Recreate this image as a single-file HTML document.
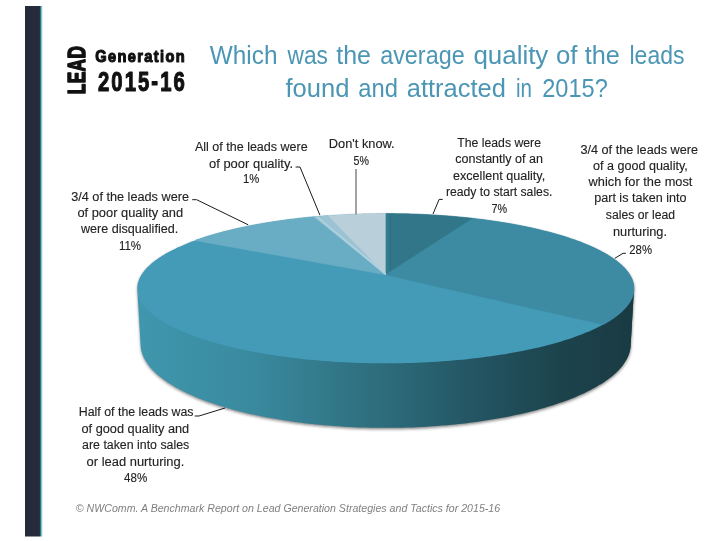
<!DOCTYPE html>
<html><head><meta charset="utf-8"><style>
html,body{margin:0;padding:0;background:#fff;}
body{width:725px;height:541px;overflow:hidden;position:relative;font-family:"Liberation Sans",sans-serif;}
svg{position:absolute;left:0;top:0;will-change:transform;}
text{font-family:"Liberation Sans",sans-serif;}
</style></head><body>
<svg width="725" height="541" viewBox="0 0 725 541">
<defs>
<filter id="blur" x="-10%" y="-10%" width="120%" height="130%"><feGaussianBlur stdDeviation="1.8"/></filter>
<linearGradient id="g48" gradientUnits="userSpaceOnUse" x1="137" y1="0" x2="610" y2="0">
<stop offset="0" stop-color="#3f97ae"/><stop offset="0.239" stop-color="#3a8a9f"/><stop offset="0.524" stop-color="#2d6c7b"/><stop offset="0.704" stop-color="#245664"/><stop offset="0.894" stop-color="#1c434c"/><stop offset="1" stop-color="#1a3e47"/>
</linearGradient>
<linearGradient id="g28" gradientUnits="userSpaceOnUse" x1="590" y1="0" x2="634" y2="0">
<stop offset="0" stop-color="#1a3d46"/><stop offset="0.5" stop-color="#1a3d46"/><stop offset="1" stop-color="#193a43"/>
</linearGradient>
<linearGradient id="bar" gradientUnits="userSpaceOnUse" x1="25" y1="0" x2="43" y2="0">
<stop offset="0" stop-color="#252b3a"/><stop offset="0.794" stop-color="#252b3a"/><stop offset="0.822" stop-color="#1d3f50"/><stop offset="0.878" stop-color="#3c8a99"/><stop offset="0.933" stop-color="#a8dce6"/><stop offset="1" stop-color="#ffffff"/>
</linearGradient>
</defs>
<rect x="25" y="6" width="18" height="530.5" fill="url(#bar)"/>
<polygon points="137.31,289.78 137.27,288.45 137.31,287.12 137.42,285.80 137.62,284.48 137.89,283.17 138.23,281.86 138.65,280.56 139.14,279.27 139.70,277.98 140.34,276.71 141.04,275.43 141.82,274.17 142.67,272.92 143.58,271.67 144.56,270.43 145.61,269.20 146.72,267.98 147.90,266.77 149.14,265.57 150.44,264.38 151.80,263.20 153.23,262.03 154.71,260.87 156.26,259.73 157.86,258.59 159.52,257.46 161.23,256.35 163.00,255.25 164.82,254.16 166.70,253.08 168.63,252.02 170.61,250.97 172.64,249.93 174.72,248.90 176.85,247.89 179.02,246.89 181.24,245.90 183.51,244.93 185.83,243.97 188.18,243.02 190.58,242.09 193.03,241.17 195.51,240.26 198.03,239.37 200.60,238.49 203.20,237.63 205.84,236.78 208.52,235.95 211.23,235.13 213.98,234.32 216.76,233.53 219.58,232.76 222.43,232.00 225.32,231.25 228.23,230.52 231.17,229.80 234.15,229.10 237.15,228.42 240.18,227.75 243.24,227.09 246.33,226.45 249.44,225.82 252.58,225.21 255.74,224.62 258.93,224.04 262.14,223.48 265.37,222.93 268.62,222.39 271.90,221.88 275.19,221.37 278.50,220.89 281.84,220.42 285.19,219.96 288.56,219.52 291.94,219.10 295.34,218.69 298.76,218.29 302.19,217.92 305.64,217.55 309.10,217.21 312.57,216.88 316.06,216.56 319.56,216.26 323.07,215.98 326.58,215.71 330.11,215.46 333.65,215.22 337.20,215.00 340.75,214.80 344.32,214.61 347.89,214.43 351.46,214.28 355.04,214.13 358.63,214.01 362.22,213.90 365.81,213.80 369.41,213.72 373.01,213.66 376.61,213.61 380.22,213.58 383.82,213.57 387.43,213.57 391.03,213.58 394.64,213.61 398.24,213.66 401.84,213.72 405.44,213.80 409.03,213.90 412.62,214.01 416.21,214.13 419.79,214.28 423.37,214.43 426.93,214.61 430.50,214.80 434.05,215.00 437.60,215.22 441.14,215.46 444.67,215.71 448.19,215.98 451.69,216.26 455.19,216.56 458.68,216.88 462.15,217.21 465.61,217.55 469.06,217.92 472.49,218.29 475.91,218.69 479.31,219.10 482.69,219.52 486.06,219.96 489.41,220.42 492.75,220.89 496.06,221.37 499.36,221.88 502.63,222.39 505.88,222.93 509.11,223.48 512.32,224.04 515.51,224.62 518.67,225.21 521.81,225.82 524.92,226.45 528.01,227.09 531.07,227.75 534.10,228.42 537.10,229.10 540.08,229.80 543.02,230.52 545.94,231.25 548.82,232.00 551.67,232.76 554.49,233.53 557.27,234.32 560.02,235.13 562.73,235.95 565.41,236.78 568.05,237.63 570.65,238.49 573.22,239.37 575.74,240.26 578.23,241.17 580.67,242.09 583.07,243.02 585.43,243.97 587.74,244.93 590.01,245.90 592.23,246.89 594.41,247.89 596.53,248.90 598.61,249.93 600.64,250.97 602.62,252.02 604.55,253.08 606.43,254.16 608.25,255.25 610.02,256.35 611.73,257.46 613.39,258.59 614.99,259.73 616.54,260.87 618.02,262.03 619.45,263.20 620.81,264.38 622.11,265.57 623.36,266.77 624.53,267.98 625.64,269.20 626.69,270.43 627.67,271.67 628.59,272.92 629.43,274.17 630.21,275.43 630.91,276.71 631.55,277.98 632.11,279.27 632.60,280.56 633.02,281.86 633.37,283.17 633.63,284.48 633.83,285.80 633.94,287.12 633.98,288.45 633.94,289.78 630.61,345.67 630.48,347.17 630.27,348.68 629.99,350.19 629.62,351.71 629.16,353.23 628.63,354.75 628.01,356.27 627.31,357.79 626.53,359.31 625.66,360.83 624.70,362.35 623.66,363.87 622.54,365.38 621.33,366.90 620.03,368.41 618.64,369.91 617.17,371.41 615.61,372.91 613.97,374.40 612.23,375.88 610.41,377.36 608.50,378.83 606.50,380.29 604.41,381.74 602.24,383.18 599.98,384.61 597.63,386.03 595.20,387.44 592.68,388.83 590.07,390.21 587.37,391.58 584.59,392.93 581.73,394.26 578.78,395.58 575.75,396.89 572.64,398.17 569.44,399.44 566.16,400.69 562.80,401.92 559.37,403.12 555.85,404.31 552.26,405.47 548.59,406.61 544.85,407.73 541.03,408.83 537.14,409.90 533.18,410.94 529.15,411.96 525.06,412.95 520.89,413.92 516.67,414.85 512.38,415.76 508.03,416.64 503.62,417.49 499.15,418.31 494.63,419.10 490.05,419.86 485.42,420.59 480.75,421.28 476.02,421.94 471.25,422.57 466.44,423.16 461.59,423.73 456.70,424.25 451.78,424.74 446.82,425.20 441.83,425.62 436.81,426.01 431.77,426.36 426.70,426.67 421.61,426.95 416.50,427.19 411.38,427.39 406.25,427.56 401.10,427.69 395.95,427.78 390.79,427.84 385.63,427.86 380.46,427.84 375.30,427.78 370.15,427.69 365.00,427.56 359.87,427.39 354.75,427.19 349.64,426.95 344.55,426.67 339.49,426.36 334.44,426.01 329.42,425.62 324.43,425.20 319.48,424.74 314.55,424.25 309.66,423.73 304.81,423.16 300.00,422.57 295.23,421.94 290.51,421.28 285.83,420.59 281.20,419.86 276.63,419.10 272.10,418.31 267.64,417.49 263.23,416.64 258.87,415.76 254.58,414.85 250.36,413.92 246.19,412.95 242.10,411.96 238.07,410.94 234.11,409.90 230.22,408.83 226.40,407.73 222.66,406.61 218.99,405.47 215.40,404.31 211.88,403.12 208.45,401.92 205.09,400.69 201.81,399.44 198.62,398.17 195.50,396.89 192.47,395.58 189.52,394.26 186.66,392.93 183.88,391.58 181.18,390.21 178.58,388.83 176.05,387.44 173.62,386.03 171.27,384.61 169.01,383.18 166.84,381.74 164.75,380.29 162.75,378.83 160.84,377.36 159.02,375.88 157.29,374.40 155.64,372.91 154.08,371.41 152.61,369.91 151.22,368.41 149.92,366.90 148.71,365.38 147.59,363.87 146.55,362.35 145.59,360.83 144.72,359.31 143.94,357.79 143.24,356.27 142.62,354.75 142.09,353.23 141.64,351.71 141.27,350.19 140.98,348.68 140.77,347.17 140.64,345.67" fill="#202020" opacity="0.55" filter="url(#blur)" transform="translate(0.3,1.5)"/>
<polygon points="633.94,289.78 633.82,291.06 633.62,292.35 633.34,293.64 632.97,294.93 632.53,296.23 632.00,297.52 631.38,298.82 630.68,300.12 629.90,301.42 629.03,302.72 628.07,304.02 627.03,305.31 625.89,306.61 624.68,307.90 623.37,309.19 621.98,310.48 620.49,311.77 618.92,313.05 617.26,314.32 615.51,315.59 613.67,316.86 611.74,318.12 609.73,319.37 607.62,320.61 605.42,321.85 603.14,323.07 600.76,324.29 598.30,325.50 595.75,326.70 593.11,327.88 590.39,329.05 587.57,330.21 584.67,331.36 581.69,332.50 578.62,333.62 575.47,334.72 572.23,335.81 568.91,336.88 565.50,337.94 562.02,338.98 558.46,340.00 554.82,341.00 551.10,341.98 547.30,342.95 543.43,343.89 539.49,344.81 535.47,345.71 531.38,346.59 527.23,347.44 523.00,348.28 518.71,349.08 514.36,349.87 509.94,350.63 505.47,351.36 500.93,352.07 496.34,352.75 491.70,353.40 487.00,354.03 482.25,354.63 477.45,355.20 472.61,355.74 467.72,356.25 462.80,356.74 457.83,357.19 452.83,357.62 447.79,358.01 442.72,358.38 437.63,358.71 432.50,359.01 427.35,359.28 422.19,359.52 417.00,359.73 411.79,359.91 406.58,360.05 401.35,360.16 396.11,360.24 390.87,360.29 385.63,360.31 380.38,360.29 375.14,360.24 369.90,360.16 364.68,360.05 359.46,359.91 354.25,359.73 349.07,359.52 343.90,359.28 338.75,359.01 333.62,358.71 328.53,358.38 323.46,358.01 318.42,357.62 313.42,357.19 308.45,356.74 303.53,356.25 298.64,355.74 293.80,355.20 289.00,354.63 284.25,354.03 279.55,353.40 274.91,352.75 270.32,352.07 265.78,351.36 261.31,350.63 256.89,349.87 252.54,349.08 248.25,348.28 244.02,347.44 239.87,346.59 235.78,345.71 231.76,344.81 227.82,343.89 223.95,342.95 220.15,341.98 216.43,341.00 212.79,340.00 209.23,338.98 205.75,337.94 202.34,336.88 199.02,335.81 195.79,334.72 192.63,333.62 189.56,332.50 186.58,331.36 183.68,330.21 180.86,329.05 178.14,327.88 175.50,326.70 172.95,325.50 170.49,324.29 168.11,323.07 165.83,321.85 163.63,320.61 161.53,319.37 159.51,318.12 157.58,316.86 155.74,315.59 153.99,314.32 152.33,313.05 150.76,311.77 149.28,310.48 147.88,309.19 146.57,307.90 145.36,306.61 144.23,305.31 143.18,304.02 142.23,302.72 141.35,301.42 140.57,300.12 139.87,298.82 139.26,297.52 138.73,296.23 138.28,294.93 137.91,293.64 137.63,292.35 137.43,291.06 137.31,289.78 140.64,345.67 140.77,347.17 140.98,348.68 141.27,350.19 141.64,351.71 142.09,353.23 142.62,354.75 143.24,356.27 143.94,357.79 144.72,359.31 145.59,360.83 146.55,362.35 147.59,363.87 148.71,365.38 149.92,366.90 151.22,368.41 152.61,369.91 154.08,371.41 155.64,372.91 157.29,374.40 159.02,375.88 160.84,377.36 162.75,378.83 164.75,380.29 166.84,381.74 169.01,383.18 171.27,384.61 173.62,386.03 176.05,387.44 178.58,388.83 181.18,390.21 183.88,391.58 186.66,392.93 189.52,394.26 192.47,395.58 195.50,396.89 198.62,398.17 201.81,399.44 205.09,400.69 208.45,401.92 211.88,403.12 215.40,404.31 218.99,405.47 222.66,406.61 226.40,407.73 230.22,408.83 234.11,409.90 238.07,410.94 242.10,411.96 246.19,412.95 250.36,413.92 254.58,414.85 258.87,415.76 263.23,416.64 267.64,417.49 272.10,418.31 276.63,419.10 281.20,419.86 285.83,420.59 290.51,421.28 295.23,421.94 300.00,422.57 304.81,423.16 309.66,423.73 314.55,424.25 319.48,424.74 324.43,425.20 329.42,425.62 334.44,426.01 339.49,426.36 344.55,426.67 349.64,426.95 354.75,427.19 359.87,427.39 365.00,427.56 370.15,427.69 375.30,427.78 380.46,427.84 385.63,427.86 390.79,427.84 395.95,427.78 401.10,427.69 406.25,427.56 411.38,427.39 416.50,427.19 421.61,426.95 426.70,426.67 431.77,426.36 436.81,426.01 441.83,425.62 446.82,425.20 451.78,424.74 456.70,424.25 461.59,423.73 466.44,423.16 471.25,422.57 476.02,421.94 480.75,421.28 485.42,420.59 490.05,419.86 494.63,419.10 499.15,418.31 503.62,417.49 508.03,416.64 512.38,415.76 516.67,414.85 520.89,413.92 525.06,412.95 529.15,411.96 533.18,410.94 537.14,409.90 541.03,408.83 544.85,407.73 548.59,406.61 552.26,405.47 555.85,404.31 559.37,403.12 562.80,401.92 566.16,400.69 569.44,399.44 572.64,398.17 575.75,396.89 578.78,395.58 581.73,394.26 584.59,392.93 587.37,391.58 590.07,390.21 592.68,388.83 595.20,387.44 597.63,386.03 599.98,384.61 602.24,383.18 604.41,381.74 606.50,380.29 608.50,378.83 610.41,377.36 612.23,375.88 613.97,374.40 615.61,372.91 617.17,371.41 618.64,369.91 620.03,368.41 621.33,366.90 622.54,365.38 623.66,363.87 624.70,362.35 625.66,360.83 626.53,359.31 627.31,357.79 628.01,356.27 628.63,354.75 629.16,353.23 629.62,351.71 629.99,350.19 630.27,348.68 630.48,347.17 630.61,345.67" fill="url(#g48)"/>
<polygon points="633.94,289.78 633.82,290.82 633.62,291.87 633.34,292.92 632.97,293.97 632.52,295.02 631.99,296.08 631.38,297.13 630.68,298.19 629.89,299.25 629.02,300.33 628.06,301.69 627.02,303.04 625.88,304.40 624.66,305.75 623.35,307.10 621.96,308.45 620.47,309.79 618.90,311.13 617.23,312.46 615.48,313.79 613.64,315.11 611.71,316.43 609.69,317.73 607.58,319.03 605.38,320.32 603.09,321.60 599.93,384.64 602.20,383.21 604.37,381.77 606.46,380.32 608.46,378.85 610.38,377.38 612.20,375.91 613.94,374.42 615.59,372.93 617.15,371.43 618.63,369.93 620.01,368.42 621.31,366.91 622.53,365.40 623.65,363.88 624.70,362.36 625.65,360.84 626.52,359.32 627.31,357.80 628.01,356.27 628.63,354.75 629.16,353.23 629.61,351.71 629.98,350.20 630.27,348.68 630.48,347.17 630.61,345.67" fill="url(#g28)"/>
<polygon points="385.63,213.56 389.23,213.57 392.83,213.60 396.44,213.64 400.04,213.69 403.64,213.76 407.23,213.85 410.82,213.95 414.41,214.07 417.99,214.20 421.57,214.35 425.14,214.52 428.71,214.70 432.27,214.90 435.82,215.11 439.36,215.34 442.89,215.58 446.42,215.84 449.93,216.12 453.43,216.41 456.92,216.72 460.40,217.04 463.87,217.38 467.32,217.73 470.76,218.10 474.19,218.49 477.59,218.89 480.99,219.30 484.36,219.74 487.72,220.18 491.07,220.65 494.39,221.13 497.69,221.62 500.98,222.13 504.24,222.66 507.48,223.20 510.70,223.75 513.90,224.32 517.07,224.91 520.22,225.51 523.34,226.13 526.44,226.76 529.52,227.41 532.56,228.07 535.58,228.75 538.57,229.45 541.53,230.15 544.46,230.88 547.36,231.62 550.22,232.37 553.06,233.14 555.86,233.92 558.62,234.72 561.35,235.53 564.05,236.36 566.71,237.20 569.33,238.05 571.91,238.92 574.46,239.80 576.96,240.70 579.43,241.61 581.85,242.54 584.23,243.48 586.56,244.43 588.85,245.40 591.10,246.38 593.30,247.37 595.45,248.38 597.55,249.40 599.61,250.43 601.61,251.48 603.57,252.54 605.47,253.61 607.32,254.69 609.12,255.78 610.86,256.89 612.55,258.01 614.18,259.14 615.75,260.28 617.27,261.43 618.72,262.60 620.12,263.77 621.45,264.96 622.72,266.15 623.93,267.36 625.08,268.57 626.16,269.79 627.17,271.03 628.12,272.27 629.00,273.52 629.81,274.78 630.56,276.05 631.23,277.32 631.83,278.61 632.36,279.89 632.81,281.19 633.20,282.49 633.50,283.80 633.74,285.12 633.89,286.44 633.97,287.76 633.97,289.09 633.89,290.42 633.74,291.76 633.50,293.10 633.18,294.44 632.78,295.79 632.30,297.13 631.73,298.48 631.09,299.83 630.35,301.18 629.54,302.53 628.64,303.88 627.65,305.23 626.58,306.58 625.42,307.93 624.17,309.27 622.84,310.61 621.42,311.94 619.92,313.28 618.32,314.60 616.64,315.92 614.87,317.24 613.01,318.55 611.06,319.85 609.02,321.15 606.90,322.43 604.69,323.71 602.39,324.98 600.00,326.24 597.53,327.49 594.97,328.72 592.32,329.95 589.58,331.16 586.76,332.36 583.86,333.54 580.87,334.71 577.80,335.87 574.64,337.00 571.40,338.13 568.08,339.23 564.68,340.32 561.20,341.39 557.64,342.44 554.00,343.47 550.29,344.49 546.50,345.48 542.64,346.45 538.70,347.40 534.70,348.32 530.62,349.22 526.48,350.10 522.27,350.96 518.00,351.79 513.66,352.59 509.26,353.37 504.80,354.13 500.29,354.85 495.72,355.55 491.09,356.22 486.42,356.87 481.69,357.48 476.92,358.07 472.10,358.62 467.24,359.15 462.34,359.65 457.40,360.11 452.43,360.55 447.42,360.95 442.38,361.33 437.31,361.67 432.22,361.98 427.10,362.26 421.96,362.50 416.81,362.72 411.63,362.90 406.45,363.05 401.25,363.16 396.05,363.24 390.84,363.29 385.63,363.31 380.41,363.29 375.20,363.24 370.00,363.16 364.80,363.05 359.62,362.90 354.44,362.72 349.29,362.50 344.15,362.26 339.03,361.98 333.94,361.67 328.87,361.33 323.83,360.95 318.82,360.55 313.85,360.11 308.91,359.65 304.01,359.15 299.15,358.62 294.33,358.07 289.56,357.48 284.83,356.87 280.16,356.22 275.53,355.55 270.96,354.85 266.45,354.13 261.99,353.37 257.59,352.59 253.25,351.79 248.98,350.96 244.77,350.10 240.63,349.22 236.55,348.32 232.55,347.40 228.61,346.45 224.75,345.48 220.96,344.49 217.25,343.47 213.61,342.44 210.05,341.39 206.57,340.32 203.17,339.23 199.85,338.13 196.61,337.00 193.45,335.87 190.38,334.71 187.39,333.54 184.49,332.36 181.67,331.16 178.93,329.95 176.28,328.72 173.72,327.49 171.25,326.24 168.86,324.98 166.56,323.71 164.35,322.43 162.23,321.15 160.19,319.85 158.24,318.55 156.38,317.24 154.61,315.92 152.93,314.60 151.34,313.28 149.83,311.94 148.41,310.61 147.08,309.27 145.83,307.93 144.67,306.58 143.60,305.23 142.61,303.88 141.71,302.53 140.90,301.18 140.16,299.83 139.52,298.48 138.95,297.13 138.47,295.79 138.07,294.44 137.75,293.10 137.52,291.76 137.36,290.42 137.28,289.09 137.28,287.76 137.36,286.44 137.52,285.12 137.75,283.80 138.05,282.49 138.44,281.19 138.89,279.89 139.42,278.61 140.02,277.32 140.69,276.05 141.44,274.78 142.25,273.52 143.13,272.27 144.08,271.03 145.09,269.79 146.17,268.57 147.32,267.36 148.53,266.15 149.80,264.96 151.13,263.77 152.53,262.60 153.98,261.43 155.50,260.28 157.07,259.14 158.70,258.01 160.39,256.89 162.13,255.78 163.93,254.69 165.78,253.61 167.68,252.54 169.64,251.48 171.64,250.43 173.70,249.40 175.80,248.38 177.95,247.37 180.15,246.38 182.40,245.40 184.69,244.43 187.03,243.48 189.40,242.54 191.83,241.61 194.29,240.70 196.79,239.80 199.34,238.92 201.92,238.05 204.54,237.20 207.20,236.36 209.90,235.53 212.63,234.72 215.39,233.92 218.20,233.14 221.03,232.37 223.90,231.62 226.79,230.88 229.72,230.15 232.68,229.45 235.67,228.75 238.69,228.07 241.73,227.41 244.81,226.76 247.91,226.13 251.03,225.51 254.18,224.91 257.35,224.32 260.55,223.75 263.77,223.20 267.01,222.66 270.28,222.13 273.56,221.62 276.86,221.13 280.19,220.65 283.53,220.18 286.89,219.74 290.26,219.30 293.66,218.89 297.07,218.49 300.49,218.10 303.93,217.73 307.38,217.38 310.85,217.04 314.33,216.72 317.82,216.41 321.32,216.12 324.83,215.84 328.36,215.58 331.89,215.34 335.43,215.11 338.98,214.90 342.54,214.70 346.11,214.52 349.68,214.35 353.26,214.20 356.84,214.07 360.43,213.95 364.02,213.85 367.62,213.76 371.21,213.69 374.81,213.64 378.42,213.60 382.02,213.57 385.63,213.56" fill="#449bb7"/>
<polygon points="385.63,274.78 385.63,213.56 389.34,213.57 393.04,213.60 396.75,213.64 400.46,213.70 404.16,213.77 407.86,213.87 411.56,213.97 415.25,214.10 418.93,214.24 422.61,214.40 426.29,214.57 429.96,214.77 433.61,214.98 437.26,215.20 440.91,215.44 444.54,215.70 448.16,215.98 451.77,216.27 455.37,216.58 458.95,216.90 462.53,217.24 466.09,217.60 469.63,217.98 473.16,218.37" fill="#317789" stroke="#317789" stroke-width="0.6" stroke-linejoin="round"/>
<polygon points="385.63,274.78 473.16,218.37 476.57,218.77 479.97,219.18 483.35,219.60 486.72,220.05 490.06,220.51 493.39,220.98 496.70,221.47 499.99,221.98 503.26,222.50 506.51,223.03 509.74,223.58 512.94,224.15 516.12,224.73 519.28,225.33 522.41,225.94 525.52,226.57 528.60,227.22 531.65,227.87 534.68,228.55 537.67,229.24 540.64,229.94 543.58,230.66 546.49,231.39 549.37,232.14 552.21,232.90 555.02,233.68 557.80,234.48 560.54,235.28 563.25,236.11 565.92,236.94 568.55,237.79 571.14,238.66 573.70,239.54 576.22,240.43 578.69,241.34 581.12,242.26 583.52,243.20 585.87,244.15 588.17,245.11 590.43,246.08 592.64,247.07 594.81,248.08 596.93,249.09 599.00,250.12 601.02,251.16 602.99,252.22 604.91,253.28 606.77,254.36 608.59,255.45 610.34,256.56 612.05,257.67 613.70,258.80 615.29,259.94 616.82,261.09 618.29,262.25 619.71,263.42 621.06,264.60 622.35,265.79 623.58,266.99 624.74,268.21 625.84,269.43 626.88,270.66 627.84,271.90 628.75,273.15 629.58,274.40 630.34,275.67 631.03,276.94 631.66,278.22 632.21,279.51 632.69,280.80 633.09,282.10 633.42,283.41 633.67,284.72 633.85,286.04 633.95,287.36 633.98,288.69 633.92,290.02 633.79,291.36 633.58,292.70 633.28,294.04 632.91,295.38 632.45,296.73 631.91,298.08 631.29,299.43 630.58,300.78 629.79,302.13 628.92,303.48 627.96,304.83 626.91,306.18 625.78,307.52 624.56,308.87 623.25,310.21 621.86,311.54 620.38,312.88 618.81,314.21 617.15,315.53 615.41,316.85 613.57,318.16 611.65,319.46 609.64,320.76 607.55,322.05 605.36,323.33 603.09,324.60" fill="#3d8ba2" stroke="#3d8ba2" stroke-width="0.6" stroke-linejoin="round"/>
<polygon points="385.63,274.78 195.04,240.43 197.59,239.52 200.19,238.63 202.83,237.75 205.50,236.89 208.22,236.04 210.97,235.21 213.76,234.39 216.58,233.58 219.44,232.80 222.34,232.02 225.27,231.26 228.22,230.52 231.22,229.79 234.24,229.08 237.29,228.39 240.37,227.71 243.48,227.04 246.61,226.39 249.78,225.76 252.97,225.14 256.18,224.54 259.42,223.95 262.68,223.38 265.97,222.83 269.28,222.29 272.61,221.77 275.96,221.26 279.33,220.77 282.72,220.29 286.13,219.84 289.55,219.39 292.99,218.97 296.45,218.56 299.93,218.16 303.42,217.78 306.93,217.42 310.45,217.08 313.98,216.75" fill="#68adc4" stroke="#68adc4" stroke-width="0.6" stroke-linejoin="round"/>
<polygon points="385.63,274.78 313.98,216.75 317.47,216.44 320.97,216.15 324.48,215.87 328.01,215.61" fill="#9cc3d3" stroke="#9cc3d3" stroke-width="0.6" stroke-linejoin="round"/>
<polygon points="385.63,274.78 328.01,215.61 331.56,215.36 335.12,215.13 338.70,214.91 342.28,214.71 345.86,214.53 349.46,214.36 353.06,214.21 356.66,214.08 360.27,213.96 363.89,213.85 367.50,213.76 371.12,213.69 374.75,213.64 378.37,213.60 382.00,213.57 385.63,213.56" fill="#b9d0db" stroke="#b9d0db" stroke-width="0.6" stroke-linejoin="round"/>
<line x1="385.33" y1="273.78" x2="317.12" y2="216.87" stroke="#b0d3df" stroke-width="1.6"/>
<polygon points="385.8,214.2 389.6,214.6 389.6,271 385.8,273" fill="#337c8f"/>
<line x1="390.1" y1="214.8" x2="390.1" y2="270.5" stroke="#2b6b7c" stroke-width="0.8"/>

<polyline points="295.6,167 300,167 319.9,215.1" fill="none" stroke="#1a1a1a" stroke-width="1"/><polyline points="356,169 356,214.5" fill="none" stroke="#8c8c8c" stroke-width="1.6"/><polyline points="442.7,199.4 439.1,199.4 433,214" fill="none" stroke="#1a1a1a" stroke-width="1"/><polyline points="625.9,253.3 623,253.3 614.8,258.3" fill="none" stroke="#1a1a1a" stroke-width="1"/><polyline points="192.2,199.7 196.6,199.7 248.2,224.8" fill="none" stroke="#1a1a1a" stroke-width="1"/><polyline points="194.7,416 199,416 225,408" fill="none" stroke="#1a1a1a" stroke-width="1"/>
<text x="195.00" y="151.00" font-size="12" textLength="112.60" lengthAdjust="spacingAndGlyphs" fill="#222222" stroke="#222222" stroke-width="0.12">All of the leads were</text><text x="209.00" y="167.80" font-size="12" textLength="84.01" lengthAdjust="spacingAndGlyphs" fill="#222222" stroke="#222222" stroke-width="0.12">of poor quality.</text><text x="243.00" y="183.30" font-size="12" textLength="16.30" lengthAdjust="spacingAndGlyphs" fill="#222222" stroke="#222222" stroke-width="0.12">1%</text><text x="328.80" y="148.00" font-size="12" textLength="65.88" lengthAdjust="spacingAndGlyphs" fill="#222222" stroke="#222222" stroke-width="0.12">Don&#x27;t know.</text><text x="353.60" y="164.50" font-size="12" textLength="15.40" lengthAdjust="spacingAndGlyphs" fill="#222222" stroke="#222222" stroke-width="0.12">5%</text><text x="457.20" y="147.00" font-size="12" textLength="83.83" lengthAdjust="spacingAndGlyphs" fill="#222222" stroke="#222222" stroke-width="0.12">The leads were</text><text x="455.20" y="163.10" font-size="12" textLength="87.79" lengthAdjust="spacingAndGlyphs" fill="#222222" stroke="#222222" stroke-width="0.12">constantly of an</text><text x="453.00" y="179.70" font-size="12" textLength="92.19" lengthAdjust="spacingAndGlyphs" fill="#222222" stroke="#222222" stroke-width="0.12">excellent quality,</text><text x="445.90" y="196.20" font-size="12" textLength="106.51" lengthAdjust="spacingAndGlyphs" fill="#222222" stroke="#222222" stroke-width="0.12">ready to start sales.</text><text x="491.40" y="212.80" font-size="12" textLength="15.60" lengthAdjust="spacingAndGlyphs" fill="#222222" stroke="#222222" stroke-width="0.12">7%</text><text x="580.40" y="153.50" font-size="12" textLength="117.69" lengthAdjust="spacingAndGlyphs" fill="#222222" stroke="#222222" stroke-width="0.12">3/4 of the leads were</text><text x="593.00" y="169.60" font-size="12" textLength="94.77" lengthAdjust="spacingAndGlyphs" fill="#222222" stroke="#222222" stroke-width="0.12">of a good quality,</text><text x="588.56" y="185.80" font-size="12" textLength="103.83" lengthAdjust="spacingAndGlyphs" fill="#222222" stroke="#222222" stroke-width="0.12">which for the most</text><text x="594.20" y="202.00" font-size="12" textLength="92.37" lengthAdjust="spacingAndGlyphs" fill="#222222" stroke="#222222" stroke-width="0.12">part is taken into</text><text x="605.80" y="218.60" font-size="12" textLength="69.20" lengthAdjust="spacingAndGlyphs" fill="#222222" stroke="#222222" stroke-width="0.12">sales or lead</text><text x="613.00" y="236.40" font-size="12" textLength="54.00" lengthAdjust="spacingAndGlyphs" fill="#222222" stroke="#222222" stroke-width="0.12">nurturing.</text><text x="629.30" y="253.80" font-size="12" textLength="22.72" lengthAdjust="spacingAndGlyphs" fill="#222222" stroke="#222222" stroke-width="0.12">28%</text><text x="71.20" y="200.50" font-size="12" textLength="117.79" lengthAdjust="spacingAndGlyphs" fill="#222222" stroke="#222222" stroke-width="0.12">3/4 of the leads were</text><text x="77.40" y="216.90" font-size="12" textLength="105.78" lengthAdjust="spacingAndGlyphs" fill="#222222" stroke="#222222" stroke-width="0.12">of poor quality and</text><text x="80.96" y="233.30" font-size="12" textLength="97.26" lengthAdjust="spacingAndGlyphs" fill="#222222" stroke="#222222" stroke-width="0.12">were disqualified.</text><text x="118.90" y="249.70" font-size="12" textLength="22.23" lengthAdjust="spacingAndGlyphs" fill="#222222" stroke="#222222" stroke-width="0.12">11%</text><text x="78.80" y="416.00" font-size="12" textLength="114.77" lengthAdjust="spacingAndGlyphs" fill="#222222" stroke="#222222" stroke-width="0.12">Half of the leads was</text><text x="81.50" y="432.50" font-size="12" textLength="107.72" lengthAdjust="spacingAndGlyphs" fill="#222222" stroke="#222222" stroke-width="0.12">of good quality and</text><text x="82.10" y="449.00" font-size="12" textLength="107.13" lengthAdjust="spacingAndGlyphs" fill="#222222" stroke="#222222" stroke-width="0.12">are taken into sales</text><text x="86.60" y="465.60" font-size="12" textLength="97.70" lengthAdjust="spacingAndGlyphs" fill="#222222" stroke="#222222" stroke-width="0.12">or lead nurturing.</text><text x="124.10" y="482.20" font-size="12" textLength="23.12" lengthAdjust="spacingAndGlyphs" fill="#222222" stroke="#222222" stroke-width="0.12">48%</text><text x="209.80" y="64.00" font-size="25" textLength="67.66" lengthAdjust="spacingAndGlyphs" fill="#4b96b5" >Which</text><text x="287.51" y="64.00" font-size="25" textLength="40.35" lengthAdjust="spacingAndGlyphs" fill="#4b96b5" >was</text><text x="336.30" y="64.00" font-size="25" textLength="34.70" lengthAdjust="spacingAndGlyphs" fill="#4b96b5" >the</text><text x="380.20" y="64.00" font-size="25" textLength="84.47" lengthAdjust="spacingAndGlyphs" fill="#4b96b5" >average</text><text x="473.40" y="64.00" font-size="25" textLength="74.92" lengthAdjust="spacingAndGlyphs" fill="#4b96b5" >quality</text><text x="556.00" y="64.00" font-size="25" textLength="21.47" lengthAdjust="spacingAndGlyphs" fill="#4b96b5" >of</text><text x="584.80" y="64.00" font-size="25" textLength="35.10" lengthAdjust="spacingAndGlyphs" fill="#4b96b5" >the</text><text x="629.50" y="64.00" font-size="25" textLength="54.92" lengthAdjust="spacingAndGlyphs" fill="#4b96b5" >leads</text><text x="285.50" y="96.80" font-size="25" textLength="63.94" lengthAdjust="spacingAndGlyphs" fill="#4b96b5" >found</text><text x="358.30" y="96.80" font-size="25" textLength="39.66" lengthAdjust="spacingAndGlyphs" fill="#4b96b5" >and</text><text x="406.80" y="96.80" font-size="25" textLength="99.13" lengthAdjust="spacingAndGlyphs" fill="#4b96b5" >attracted</text><text x="515.90" y="96.80" font-size="25" textLength="15.97" lengthAdjust="spacingAndGlyphs" fill="#4b96b5" >in</text><text x="542.20" y="96.80" font-size="25" textLength="65.62" lengthAdjust="spacingAndGlyphs" fill="#4b96b5" >2015?</text><text x="75.80" y="511.70" font-size="10.5" textLength="424.34" lengthAdjust="spacingAndGlyphs" fill="#808080" font-style="italic">© NWComm. A Benchmark Report on Lead Generation Strategies and Tactics for 2015-16</text><text transform="translate(95.30,62.10) scale(0.84,1)" x="0" y="0" font-size="17.4" letter-spacing="1.616" fill="#111" font-weight="bold" stroke="#111" stroke-width="1.2" stroke-linejoin="round">Generation</text><text transform="translate(98.01,91.15) scale(0.75,1)" x="0" y="0" font-size="27" letter-spacing="2.768" fill="#111" font-weight="bold" stroke="#111" stroke-width="1.1" stroke-linejoin="round">2015-16</text><text transform="translate(85.30,94.22) rotate(-90) scale(0.72,1)" x="0" y="0" font-size="24" letter-spacing="0.511" fill="#111" font-weight="bold" stroke="#111" stroke-width="1.6" stroke-linejoin="round">LEAD</text>
</svg>
</body></html>
